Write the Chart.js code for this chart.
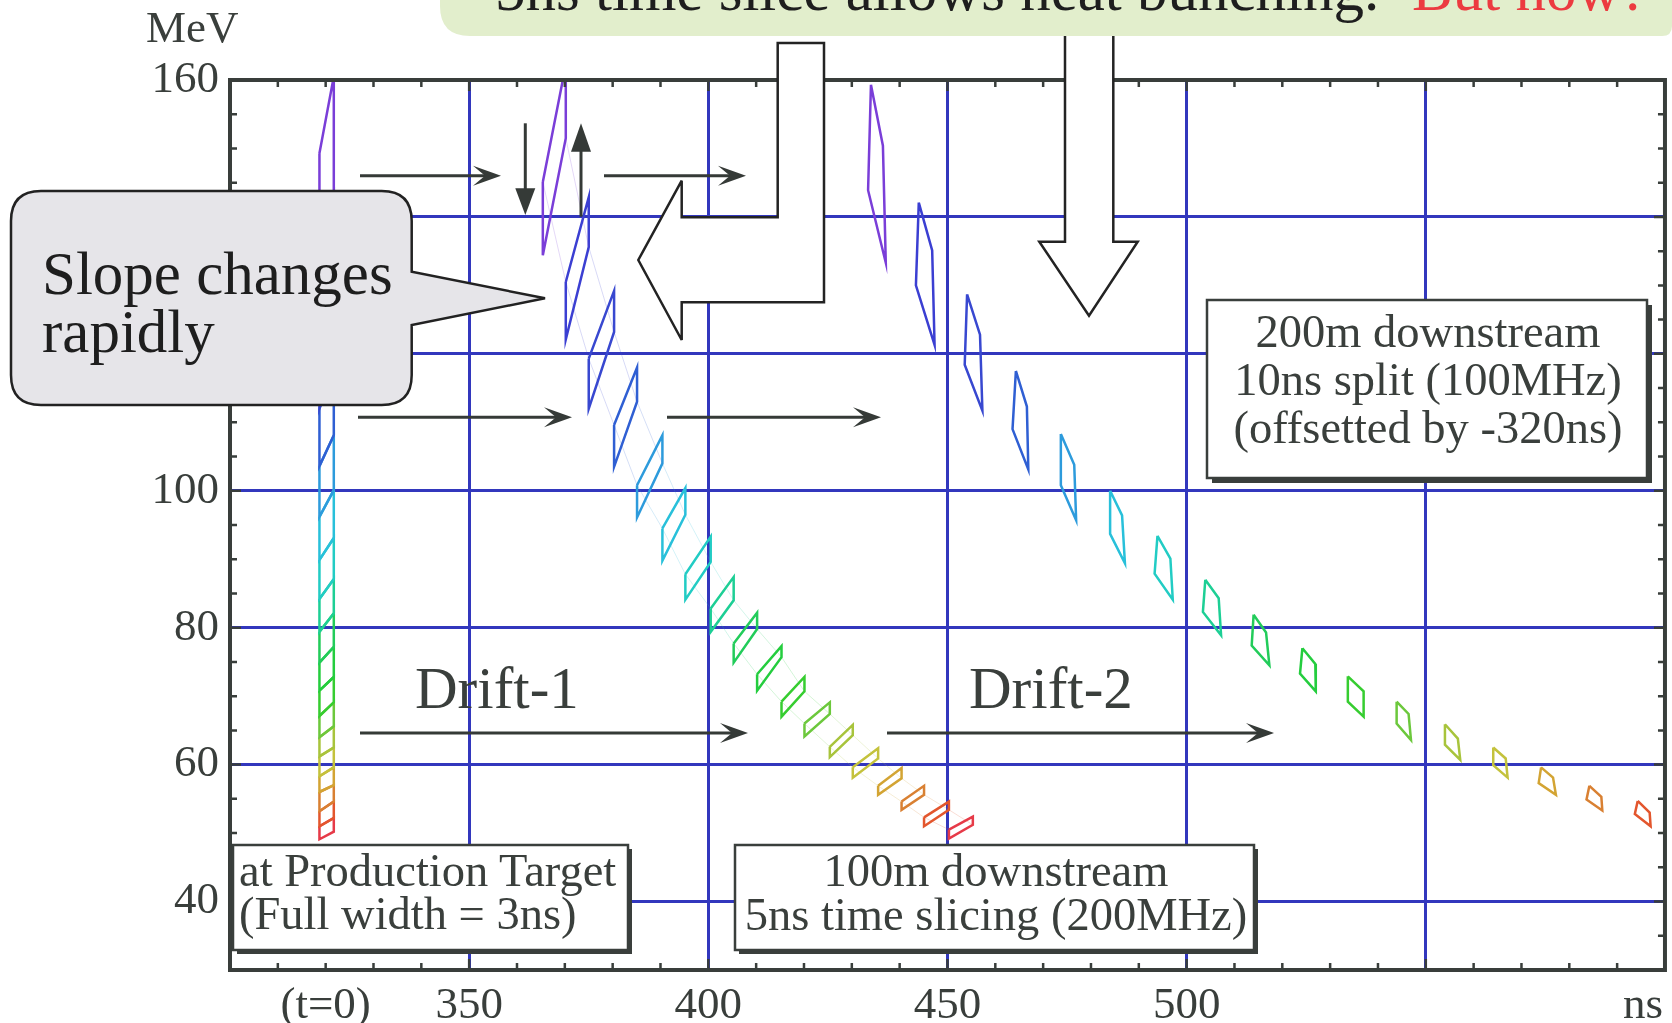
<!DOCTYPE html>
<html><head><meta charset="utf-8"><title>Bunch slicing</title>
<script src="https://cdn.jsdelivr.net/npm/chart.js@4.4.1/dist/chart.umd.min.js"></script>
<style>
html,body{margin:0;padding:0;background:#fff;overflow:hidden}
#wrap{position:relative;width:1672px;height:1023px;overflow:hidden;background:#fff}
#c{position:absolute;left:0;top:0}
#ov{position:absolute;left:0;top:0}
#ov text{font-family:'Liberation Serif','Times New Roman',serif}
</style></head><body>
<div id="wrap">
<canvas id="c" width="1672" height="1023"></canvas>
<svg id="ov" width="1672" height="1023" viewBox="0 0 1672 1023">
 <g fill="#fff" stroke="#232323" stroke-width="2.5" stroke-linejoin="miter">
  <polygon points="777.7,43 777.7,217.3 681.7,217.3 681.7,180.7 638.3,260 681.7,340 681.7,302.3 824,302.3 824,43"/>
  <polygon points="1065,20 1065,241.7 1039.3,241.7 1089,315.7 1137.7,241.7 1113.3,241.7 1113.3,20"/>
 </g>
 <path d="M440,-30 H1672 V26 Q1672,36 1662,36 H470 Q440,36 440,6 Z" fill="#e2eecc"/>
 <text x="495" y="10" font-size="61" fill="#1e1e1e">5ns time slice allows neat bunching.</text>
 <text x="1412" y="10" font-size="61" fill="#ec3b40">But now?</text>

 <g stroke="#353a37" stroke-width="3" fill="none">
  <line x1="360" y1="175.7" x2="487" y2="175.7"/>
  <line x1="604" y1="175.7" x2="732" y2="175.7"/>
  <line x1="358" y1="417.3" x2="558" y2="417.3"/>
  <line x1="667" y1="417.3" x2="867" y2="417.3"/>
  <line x1="360" y1="733" x2="734" y2="733"/>
  <line x1="887" y1="733" x2="1260" y2="733"/>
  <line x1="525.3" y1="123.3" x2="525.3" y2="190"/>
  <line x1="581" y1="216.7" x2="581" y2="150"/>
 </g>
 <g fill="#353a37">
  <polygon points="501,175.7 473,165.7 485,175.7 473,185.7"/>
  <polygon points="746,175.7 718,165.7 730,175.7 718,185.7"/>
  <polygon points="572,417.3 544,407.3 556,417.3 544,427.3"/>
  <polygon points="881,417.3 853,407.3 865,417.3 853,427.3"/>
  <polygon points="748,733 720,723 732,733 720,743"/>
  <polygon points="1274,733 1246,723 1258,733 1246,743"/>
  <polygon points="525.3,215 515.3,188.3 535.3,188.3"/>
  <polygon points="581,123.3 571,151.7 591,151.7"/>
 </g>

 <path d="M41,191 H381.7 Q411.7,191 411.7,221 V271.7 L545,298.3 L411.7,325 V375 Q411.7,405 381.7,405 H41 Q11,405 11,375 V221 Q11,191 41,191 Z" fill="#e6e5e9" stroke="#222" stroke-width="2.5"/>
 <text x="42" y="294" font-size="61" fill="#1e1e1e">Slope changes</text>
 <text x="42" y="352" font-size="61" fill="#1e1e1e">rapidly</text>

 <g fill="#3a3f3c">
  <rect x="237" y="849" width="395" height="105"/>
  <rect x="739" y="849" width="519" height="105"/>
  <rect x="1212" y="305" width="440" height="178"/>
 </g>
 <g fill="#fff" stroke="#3a3f3c" stroke-width="2.5">
  <rect x="233" y="845" width="395" height="105"/>
  <rect x="735" y="845" width="519" height="105"/>
  <rect x="1207" y="300" width="440" height="178"/>
 </g>
 <g fill="#3a3f3c" font-size="46.5">
  <text x="239" y="886">at Production Target</text>
  <text x="239" y="929">(Full width = 3ns)</text>
  <text x="996" y="886" text-anchor="middle">100m downstream</text>
  <text x="996" y="930" text-anchor="middle">5ns time slicing (200MHz)</text>
  <text x="1428" y="347" text-anchor="middle">200m downstream</text>
  <text x="1428" y="395" text-anchor="middle">10ns split (100MHz)</text>
  <text x="1428" y="443" text-anchor="middle">(offsetted by -320ns)</text>
 </g>
 <text x="146" y="42" font-size="45" fill="#3a3f3c">MeV</text>
 <text x="415" y="708" font-size="59" fill="#3a3f3c">Drift-1</text>
 <text x="969" y="708" font-size="59" fill="#3a3f3c">Drift-2</text>
</svg>
</div>
<script>
// ---- colours of the 18 energy slices (high energy -> low energy)
const sliceColors = ['#7a3ed8','#3b3fd2','#3848d0','#2f5fd3','#2d9bdc','#28c0da','#22ccc4','#1dcf95','#22cc5a',
  '#24cd3e','#36cd30','#6cc83c','#a8c43c','#c4c23c','#d3a433','#d98032','#e3562d','#e63a48'];

// ---- production target (t = 0): slice boundaries, energy at left / right edge
const targetTime = [318.7, 321.7];
const targetELeft  = [149.3,134.4,122.1,112.0,103.6,96.2,89.9,84.2,79.4,74.9,70.8,67.1,64.0,61.2,58.3,56.0,53.2,51.0,49.1];
const targetERight = [160.5,142.9,129.2,118.0,108.1,100.1,93.1,87.1,82.1,77.2,72.8,69.1,65.6,62.5,59.6,57.0,54.6,52.2,50.2];

// ---- drift-1 (100 m, 5 ns slices)
const drift1Edges = [365.4,370.2,375.0,380.3,385.1,390.4,395.2,400.5,405.3,410.2,415.3,420.1,425.4,430.2,435.5,440.4,445.1,450.3,455.3];
const drift1LeftTop  = [145.1,130.5,119.3,109.6,100.8,94.5,87.8,82.8,77.7,73.2,69.2,66.0,62.6,59.6,56.9,54.6,52.3,50.5];
const drift1LeftBot  = [134.4,122.1,112.0,103.5,96.1,89.8,84.1,79.4,74.9,70.8,67.0,64.1,61.1,58.1,55.6,53.4,51.0,49.2];
const drift1RightTop = [162.2,142.9,129.2,118.0,108.1,100.4,93.3,87.4,82.2,77.3,72.8,69.1,65.8,62.4,59.5,56.9,54.6,52.4];
const drift1RightBot = [151.5,135.6,123.2,113.0,104.0,96.5,89.6,84.0,79.8,75.7,70.7,67.4,64.3,60.9,58.0,55.6,53.4,51.2];

// ---- drift-2 (200 m, 10 ns split, offset -320 ns): vertices top, right, bottom, left
const drift2T = [
 [434.0,436.5,437.1,433.4],[444.0,446.8,447.3,443.4],[454.1,456.8,457.3,453.6],[464.3,466.6,466.9,463.6],
 [473.7,476.5,476.9,473.7],[484.0,486.5,487.1,484.0],[493.9,496.6,497.1,493.3],[503.9,506.7,507.2,503.4],
 [514.0,516.6,517.3,513.6],[524.2,526.9,527.0,523.7],[533.7,537.0,537.0,533.7],[543.9,546.4,546.9,543.9],
 [554.0,556.7,557.2,554.0],[564.1,566.7,567.1,564.1],[574.1,576.6,577.2,573.6],[584.2,586.7,586.9,583.6],
 [594.3,596.8,597.0,593.7]];
const drift2E = [
 [159.3,150.4,133.3,143.9],[142.1,135.1,121.3,130.0],[128.7,122.8,111.7,118.4],[117.5,112.3,103.1,109.0],
 [108.3,103.8,95.7,100.8],[100.0,96.4,89.4,93.7],[93.4,90.1,84.1,87.9],[87.0,84.3,78.9,82.3],
 [81.9,79.3,74.5,77.4],[77.0,74.7,70.7,73.3],[72.9,70.7,67.0,69.2],[69.2,67.4,63.6,66.0],
 [65.9,63.8,60.7,62.9],[62.5,60.9,58.1,59.9],[59.6,58.1,55.6,57.3],[56.9,55.3,53.3,54.9],
 [54.7,53.0,51.0,52.8]];

// ---- axes
const xTickValues = [320,350,400,450,500,550,595.4];
const xTickLabels = ['(t=0)','350','400','450','500','','ns'];
const xGridValues = [350,400,450,500,550];
const yTickValues = [40,60,80,100,120,140,160];
const yTickLabels = ['40','60','80','100','120','140','160'];
const yGridValues = [40,60,80,100,120,140];

const INK='#393e3b', GRID='#3237bd', FONT="'Liberation Serif','Times New Roman',serif";

function fade(hex,a){const n=parseInt(hex.slice(1),16);return `rgba(${n>>16},${(n>>8)&255},${n&255},${a})`;}
function poly(pts,color,w,extra){
  return Object.assign({data:pts.map(p=>({x:p[0],y:p[1]})),borderColor:color,backgroundColor:color,borderWidth:w,
    showLine:true,pointRadius:0,pointHoverRadius:0,fill:false,tension:0,borderJoinStyle:'miter'},extra||{});
}
const datasets=[];
// faint ghost traces behind drift-1 slices
datasets.push(poly(drift1LeftTop.map((e,k)=>[drift1Edges[k],e]),'rgba(0,0,0,0)',1,{segment:{borderColor:c=>fade(sliceColors[c.p0DataIndex],0.2)}}));
datasets.push(poly(drift1RightBot.map((e,k)=>[drift1Edges[k+1],e]),'rgba(0,0,0,0)',1,{segment:{borderColor:c=>fade(sliceColors[c.p0DataIndex],0.2)}}));
for(let k=0;k<18;k++){
  const tl=targetTime[0],tr=targetTime[1];
  datasets.push(poly([[tl,targetELeft[k]],[tr,targetERight[k]],[tr,targetERight[k+1]],[tl,targetELeft[k+1]],[tl,targetELeft[k]]],sliceColors[k],2.5));
}
for(let k=0;k<18;k++){
  const a=drift1Edges[k],b=drift1Edges[k+1];
  datasets.push(poly([[a,drift1LeftTop[k]],[b,drift1RightTop[k]],[b,drift1RightBot[k]],[a,drift1LeftBot[k]],[a,drift1LeftTop[k]]],sliceColors[k],2.5));
}
for(let k=0;k<drift2T.length;k++){
  const t=drift2T[k],e=drift2E[k];
  datasets.push(poly([[t[0],e[0]],[t[1],e[1]],[t[2],e[2]],[t[3],e[3]],[t[0],e[0]]],sliceColors[k],2.5));
}

const framePlugin={id:'frame',afterDatasetsDraw(chart){
  const {ctx,chartArea:a,scales:{x,y}}=chart;
  ctx.save();ctx.strokeStyle=INK;ctx.lineWidth=2.5;ctx.beginPath();
  for(let v=310;v<600;v+=10){const p=x.getPixelForValue(v);const L=(v%50===0)?11:7;
    ctx.moveTo(p,a.top);ctx.lineTo(p,a.top+L);ctx.moveTo(p,a.bottom);ctx.lineTo(p,a.bottom-L);}
  for(let v=35;v<160;v+=5){const p=y.getPixelForValue(v);const L=(v%20===0)?11:7;
    ctx.moveTo(a.left,p);ctx.lineTo(a.left+L,p);ctx.moveTo(a.right,p);ctx.lineTo(a.right-L,p);}
  ctx.stroke();
  ctx.lineWidth=4;ctx.strokeRect(a.left,a.top,a.right-a.left,a.bottom-a.top);
  ctx.restore();
}};

new Chart(document.getElementById('c'),{
  type:'scatter',
  data:{datasets},
  options:{
    responsive:false,animation:false,devicePixelRatio:1,events:[],
    layout:{padding:{top:80,right:2,left:0,bottom:0}},
    plugins:{legend:{display:false},tooltip:{enabled:false}},
    scales:{
      x:{type:'linear',min:300,max:600,position:'bottom',
        afterBuildTicks:s=>{s.ticks=xTickValues.map(v=>({value:v}));},
        afterFit:s=>{s.height=53;},
        ticks:{autoSkip:false,maxRotation:0,minRotation:0,padding:9,color:INK,font:{family:FONT,size:45},
          callback:(v,i)=>xTickLabels[i]},
        grid:{drawTicks:false,lineWidth:3,color:c=>(c.tick&&xGridValues.includes(c.tick.value))?GRID:'rgba(0,0,0,0)'},
        border:{display:false}},
      y:{type:'linear',min:30,max:160,position:'left',
        afterBuildTicks:s=>{s.ticks=yTickValues.map(v=>({value:v}));},
        afterFit:s=>{s.width=230;},
        ticks:{autoSkip:false,padding:11,color:INK,font:{family:FONT,size:45},
          callback:(v,i)=>yTickLabels[i]},
        grid:{drawTicks:false,lineWidth:3,color:c=>(c.tick&&yGridValues.includes(c.tick.value))?GRID:'rgba(0,0,0,0)'},
        border:{display:false}}
    }
  },
  plugins:[framePlugin]
});
</script>
</body></html>
